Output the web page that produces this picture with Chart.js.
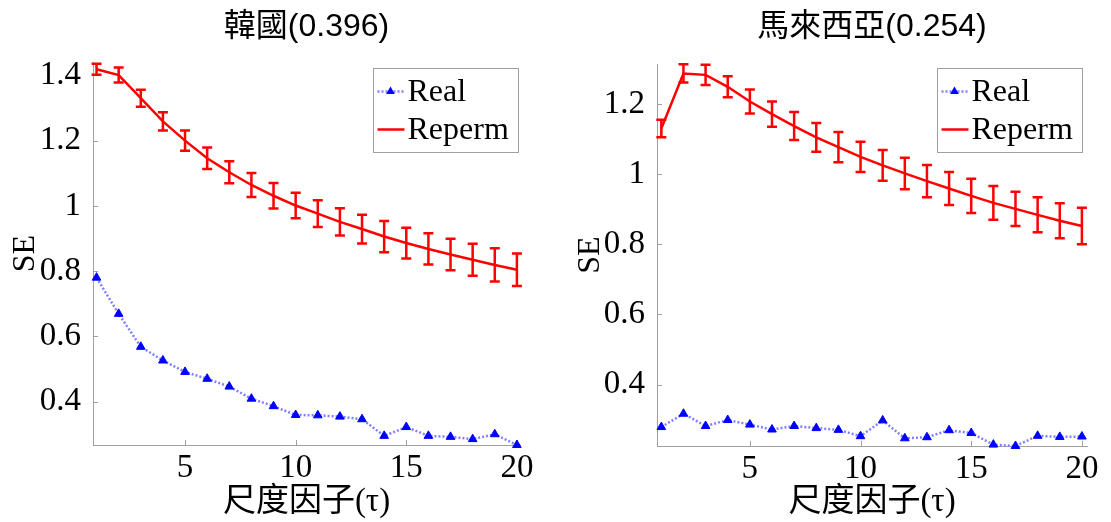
<!DOCTYPE html>
<html>
<head>
<meta charset="utf-8">
<title>SE vs scale factor</title>
<script src="https://cdn.jsdelivr.net/npm/chart.js@4.4.1/dist/chart.umd.min.js"></script>
<style>
  body { margin: 0; background: #fff; }
  .panel { position: absolute; top: 0; }
</style>
</head>
<body>
<canvas id="korea" class="panel" style="left:0" width="555" height="522"></canvas>
<canvas id="malaysia" class="panel" style="left:555px" width="556" height="522"></canvas>
<script>
// scale factor tau
const tau = [1, 2, 3, 4, 5, 6, 7, 8, 9, 10, 11, 12, 13, 14, 15, 16, 17, 18, 19, 20];
const xTicks = [5, 10, 15, 20];

const koreaReal = [0.780, 0.669, 0.568, 0.526, 0.491, 0.470, 0.446, 0.409, 0.386, 0.359,
                   0.358, 0.354, 0.346, 0.295, 0.322, 0.295, 0.292, 0.285, 0.300, 0.267];
const koreaReperm = [1.419, 1.401, 1.330, 1.259, 1.200, 1.146, 1.103, 1.064, 1.031, 1.001,
                     0.976, 0.951, 0.929, 0.906, 0.886, 0.868, 0.851, 0.835, 0.819, 0.804];
const koreaErr = [0.017, 0.023, 0.026, 0.028, 0.031, 0.033, 0.034, 0.037, 0.039, 0.039,
                  0.041, 0.042, 0.044, 0.048, 0.047, 0.048, 0.048, 0.049, 0.051, 0.050];
const koreaYTicks = [0.4, 0.6, 0.8, 1, 1.2, 1.4];

const malaysiaReal = [0.279, 0.317, 0.282, 0.299, 0.286, 0.272, 0.282, 0.276, 0.271, 0.253,
                      0.298, 0.247, 0.250, 0.270, 0.262, 0.229, 0.225, 0.254, 0.251, 0.252];
const malaysiaReperm = [1.130, 1.287, 1.283, 1.249, 1.207, 1.171, 1.137, 1.105, 1.077, 1.049,
                        1.025, 1.002, 0.980, 0.959, 0.938, 0.918, 0.901, 0.884, 0.867, 0.852];
const malaysiaErr = [0.025, 0.026, 0.029, 0.030, 0.034, 0.036, 0.040, 0.041, 0.043, 0.043,
                     0.044, 0.045, 0.046, 0.047, 0.049, 0.048, 0.049, 0.050, 0.050, 0.052];
const malaysiaYTicks = [0.4, 0.6, 0.8, 1, 1.2];

const SERIF = '"Liberation Serif", "Times New Roman", "Noto Sans CJK TC", serif';
const SANS = '"Liberation Sans", Arial, "Noto Sans CJK TC", sans-serif';
const AXIS_GREY = '#a0a0a0';

const toPoints = (vals) => tau.map((t, i) => ({ x: t, y: vals[i] }));

// vertical error bars with caps, drawn through the chart scales
const errorBars = {
    id: 'errorBars',
    afterDatasetsDraw(chart, args, opts) {
        const { ctx, scales } = chart;
        const ds = chart.data.datasets[opts.dataset];
        ctx.save();
        ctx.strokeStyle = ds.borderColor;
        ctx.lineWidth = 2.5;
        ds.data.forEach((p, i) => {
            const x = scales.x.getPixelForValue(p.x);
            const top = scales.y.getPixelForValue(p.y + opts.errors[i]);
            const bot = scales.y.getPixelForValue(p.y - opts.errors[i]);
            ctx.beginPath();
            ctx.moveTo(x, top);
            ctx.lineTo(x, bot);
            ctx.moveTo(x - 5, top);
            ctx.lineTo(x + 5, top);
            ctx.moveTo(x - 5, bot);
            ctx.lineTo(x + 5, bot);
            ctx.stroke();
        });
        ctx.restore();
    }
};

// small tick marks pointing into the plot area
const innerTicks = {
    id: 'innerTicks',
    beforeDatasetsDraw(chart) {
        const { ctx, chartArea, scales } = chart;
        ctx.save();
        ctx.strokeStyle = AXIS_GREY;
        ctx.lineWidth = 1;
        ctx.beginPath();
        scales.y.ticks.forEach(t => {
            const y = Math.round(scales.y.getPixelForValue(t.value)) + 0.5;
            ctx.moveTo(chartArea.left, y);
            ctx.lineTo(chartArea.left + 5, y);
        });
        scales.x.ticks.forEach(t => {
            const x = Math.round(scales.x.getPixelForValue(t.value)) + 0.5;
            ctx.moveTo(x, chartArea.bottom);
            ctx.lineTo(x, chartArea.bottom - 5);
        });
        ctx.stroke();
        ctx.restore();
    }
};

// boxed legend in the top right corner of the plot
const boxLegend = {
    id: 'boxLegend',
    afterDraw(chart, args, opts) {
        const { ctx, chartArea } = chart;
        const w = 145, h = 84;
        const x0 = Math.round(chartArea.right - opts.right - w) + 0.5;
        const y0 = Math.round(chartArea.top + opts.top) + 0.5;
        ctx.save();
        ctx.fillStyle = '#fff';
        ctx.fillRect(x0, y0, w, h);
        ctx.strokeStyle = AXIS_GREY;
        ctx.lineWidth = 1;
        ctx.strokeRect(x0, y0, w, h);

        chart.data.datasets.forEach((ds, i) => {
            const cy = y0 + 23 + i * 38;
            ctx.strokeStyle = ds.borderColor;
            ctx.lineWidth = ds.borderWidth;
            ctx.setLineDash(ds.borderDash || []);
            ctx.beginPath();
            ctx.moveTo(x0 + 4, cy);
            ctx.lineTo(x0 + 31, cy);
            ctx.stroke();
            ctx.setLineDash([]);
            if (ds.pointRadius) {
                const r = ds.pointRadius;
                const mx = x0 + 17;
                ctx.fillStyle = ds.pointBackgroundColor;
                ctx.beginPath();
                ctx.moveTo(mx, cy - r);
                ctx.lineTo(mx + r * 0.87, cy + r * 0.5);
                ctx.lineTo(mx - r * 0.87, cy + r * 0.5);
                ctx.closePath();
                ctx.fill();
            }
            ctx.fillStyle = '#000';
            ctx.font = '32px ' + SERIF;
            ctx.textBaseline = 'middle';
            ctx.fillText(ds.label, x0 + 34, cy + 1);
        });
        ctx.restore();
    }
};

function makeChart(id, p) {
    const ctx = document.getElementById(id).getContext('2d');
    return new Chart(ctx, {
        type: 'line',
        data: {
            datasets: [{
                label: 'Real',
                data: toPoints(p.real),
                borderColor: '#8080ff',
                borderWidth: 2.5,
                borderDash: [2, 2],
                pointStyle: 'triangle',
                pointRadius: 5,
                pointBackgroundColor: '#0000ff',
                pointBorderColor: '#0000ff',
                pointBorderWidth: 1,
                clip: false
            }, {
                label: 'Reperm',
                data: toPoints(p.reperm),
                borderColor: '#ff0000',
                borderWidth: 2.5,
                pointRadius: 0
            }]
        },
        options: {
            responsive: false,
            animation: false,
            layout: { padding: { right: p.padRight } },
            scales: {
                x: {
                    type: 'linear',
                    min: p.xMin,
                    max: p.xMax,
                    afterBuildTicks: s => { s.ticks = xTicks.map(v => ({ value: v })); },
                    afterFit: s => { s.height = p.xHeight; },
                    grid: { display: false },
                    border: { color: AXIS_GREY, width: 1 },
                    ticks: {
                        color: '#000', padding: -4, maxRotation: 0,
                        font: { family: SERIF, size: 33 },
                        callback: v => String(v)
                    },
                    title: {
                        display: true,
                        text: '尺度因子(τ)',
                        color: '#000',
                        padding: { top: -5, bottom: 0 },
                        font: { family: SERIF, size: 33 }
                    }
                },
                y: {
                    min: p.yMin,
                    max: p.yMax,
                    afterBuildTicks: s => { s.ticks = p.yTicks.map(v => ({ value: v })); },
                    afterFit: s => { s.width = p.yWidth; },
                    grid: { display: false },
                    border: { color: AXIS_GREY, width: 1 },
                    ticks: {
                        color: '#000', padding: 4,
                        font: { family: SERIF, size: 33 },
                        callback: v => String(v)
                    },
                    title: {
                        display: true,
                        text: 'SE',
                        color: '#000',
                        padding: { top: p.seOffset, bottom: 0 },
                        font: { family: SERIF, size: 32 }
                    }
                }
            },
            plugins: {
                legend: { display: false },
                tooltip: { enabled: false },
                title: {
                    display: true,
                    text: p.title,
                    color: '#000',
                    fullSize: false,
                    padding: { top: 8, bottom: p.titleGap },
                    font: { family: SANS, size: 32, weight: 'normal' }
                },
                errorBars: { dataset: 1, errors: p.err },
                boxLegend: { right: p.legendRight, top: p.legendTop }
            }
        },
        plugins: [innerTicks, errorBars, boxLegend]
    });
}

makeChart('korea', {
    title: '韓國(0.396)',
    real: koreaReal, reperm: koreaReperm, err: koreaErr, yTicks: koreaYTicks,
    xMin: 0.84, xMax: 20.14, yMin: 0.267, yMax: 1.441,
    yWidth: 93, xHeight: 77, padRight: 35, titleGap: 15.6, seOffset: 6,
    legendRight: 2, legendTop: 6
});

makeChart('malaysia', {
    title: '馬來西亞(0.254)',
    real: malaysiaReal, reperm: malaysiaReperm, err: malaysiaErr, yTicks: malaysiaYTicks,
    xMin: 0.805, xMax: 20.23, yMin: 0.225, yMax: 1.314,
    yWidth: 102, xHeight: 76, padRight: 24, titleGap: 17.6, seOffset: 16,
    legendRight: 5, legendTop: 4
});
</script>
</body>
</html>
